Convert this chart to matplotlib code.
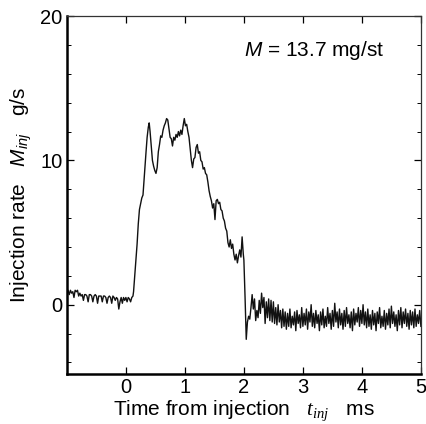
import numpy as np
import matplotlib
matplotlib.use("Agg")
import matplotlib.pyplot as plt
from matplotlib.ticker import MultipleLocator

plt.rcParams['font.family'] = ['Liberation Sans', 'DejaVu Sans']
plt.rcParams['mathtext.fontset'] = 'custom'
plt.rcParams['mathtext.rm'] = 'Liberation Sans'
plt.rcParams['mathtext.it'] = 'Liberation Serif:italic'
plt.rcParams['mathtext.sf'] = 'Liberation Sans:italic'

# before injection, sampled every 0.02 ms from -1.0 ms
pre_start, pre_step = -1.0, 0.02
rate_pre = [0.8, 1.0, 0.7, 1.0, 0.8, 0.9, 0.5, 1.0, 0.9, 1.0,
            0.6, 0.8, 0.6, 0.7, 0.3, 0.7, 0.7, 0.6, 0.2, 0.7,
            0.7, 0.6, 0.2, 0.6, 0.7, 0.6, 0.1, 0.6, 0.6, 0.6,
            0.2, 0.6, 0.6, 0.5, 0.1, 0.5, 0.6, 0.5, 0.1, 0.6,
            0.5, 0.3, 0.5, 0.4, -0.3, 0.2, 0.5, 0.1, 0.5, 0.3,
            0.5, 0.2, 0.5, 0.4, 0.2, 0.5, 0.6]

# injection event
t_main = [0.13, 0.15, 0.17, 0.19, 0.21, 0.23, 0.25, 0.27, 0.29, 0.30,
          0.32, 0.34, 0.36, 0.38, 0.395, 0.41, 0.43, 0.45, 0.47, 0.49,
          0.51, 0.53, 0.55, 0.57, 0.59, 0.61, 0.63, 0.65, 0.67, 0.69,
          0.71, 0.73, 0.75, 0.77, 0.79, 0.81, 0.83, 0.85, 0.87, 0.89,
          0.91, 0.93, 0.95, 0.97, 0.99, 1.01, 1.03, 1.05, 1.07, 1.09,
          1.11, 1.13, 1.15, 1.17, 1.19, 1.21, 1.23, 1.25, 1.27, 1.29,
          1.31, 1.33, 1.35, 1.37, 1.39, 1.41, 1.43, 1.45, 1.47, 1.49,
          1.51, 1.53, 1.55, 1.57, 1.59, 1.61, 1.63, 1.65, 1.67, 1.69,
          1.71, 1.73, 1.75, 1.77, 1.79, 1.81, 1.83, 1.85, 1.87, 1.89,
          1.91, 1.93, 1.95, 1.97, 1.99, 2.00, 2.02, 2.04, 2.06]
rate_main = [0.9, 2.0, 3.1, 4.2, 5.6, 6.6, 7.0, 7.4, 7.6, 8.2,
             9.3, 10.5, 11.6, 12.3, 12.6, 12.0, 11.0, 10.0, 9.6, 9.3,
             9.1, 9.5, 10.6, 11.1, 11.7, 11.6, 12.1, 12.4, 12.6, 12.9,
             12.8, 12.2, 11.6, 11.5, 11.0, 11.6, 11.4, 11.8, 11.6, 12.0,
             11.7, 12.1, 11.8, 12.4, 12.9, 12.4, 12.5, 12.0, 11.6, 10.8,
             10.0, 9.5, 10.1, 10.2, 10.9, 11.1, 10.5, 10.6, 10.0, 9.9,
             9.4, 9.5, 9.1, 9.0, 8.5, 7.9, 7.5, 7.2, 6.7, 7.0,
             5.9, 7.2, 7.3, 7.0, 7.1, 6.6, 6.5, 6.0, 5.8, 5.3,
             5.1, 4.3, 4.0, 4.5, 3.9, 4.2, 3.5, 3.1, 3.5, 2.9,
             3.4, 3.8, 3.3, 4.7, 3.5, 3.1, 0.5, -2.4, -1.2]

# after injection, sampled every 0.02 ms from 2.08 ms
post_start, post_step = 2.08, 0.02
rate_post = [-0.8, -1.0, -0.2, 0.7, -0.3, 0.4, -1.1, -0.4, -0.9, 0.3,
             -0.6, 0.8, -0.2, 0.5, -1.3, 0.2, -0.9, 0.4, -1.1, 0.3,
             -1.2, 0.2, -1.3, -0.2, -1.4, 0.0, -1.2, -0.4, -1.6, -0.3,
             -1.5, -0.5, -1.7, -0.6, -1.5, -0.3, -1.6, -0.8, -1.4, -0.5,
             -1.8, -0.4, -1.3, -0.7, -1.6, -0.2, -1.5, -0.6, -1.4, -0.3,
             -1.7, -0.5, -1.2, 0.0, -1.5, -0.6, -1.6, -0.4, -1.3, -0.7,
             -1.8, -0.5, -1.4, -0.3, -1.6, -0.8, -1.5, -0.2, -1.3, -0.6,
             -1.7, -0.4, -1.5, 0.1, -1.2, -0.5, -1.6, -0.3, -1.4, -0.6,
             -1.7, -0.4, -1.5, -0.2, -1.3, -0.7, -1.6, -0.5, -1.8, -0.3,
             -1.4, -0.6, -1.2, -0.2, -1.5, -0.4, -1.3, 0.0, -1.4, -0.5,
             -1.6, -0.3, -1.5, -0.7, -1.7, -0.4, -1.4, -0.6, -1.8, -0.5,
             -1.3, -0.2, -1.6, -0.8, -1.5, -0.4, -1.7, -0.6, -1.4, -0.3,
             -1.6, -0.1, -1.3, -0.5, -1.5, -0.7, -1.8, -0.4, -1.4, -0.2,
             -1.6, -0.5, -1.3, -0.3, -1.5, -0.6, -1.7, -0.4, -1.4, -0.5,
             -1.6, -0.3, -1.5, -0.7, -1.3, -0.4, -1.5]

t_pre = pre_start + pre_step * np.arange(len(rate_pre))
t_post = post_start + post_step * np.arange(len(rate_post))
t = np.concatenate([t_pre, t_main, t_post])
rate = np.concatenate([rate_pre, rate_main, rate_post])

fig = plt.figure(figsize=(4.26, 4.24), dpi=100)
ax = fig.add_axes([0.157, 0.118, 0.831, 0.844])
ax.plot(t, rate, color='#111111', lw=1.0)

ax.set_xlim(-1, 5)
ax.set_ylim(-4.8, 20)
ax.set_xticks([0, 1, 2, 3, 4, 5])
ax.set_yticks([0, 10, 20])
ax.yaxis.set_minor_locator(MultipleLocator(2))
ax.tick_params(which='both', direction='in', top=True, right=True,
               labelsize=14.5, pad=3)
ax.tick_params(which='major', length=5, width=0.9)
ax.tick_params(which='minor', length=3, width=0.7)

for side in ['left', 'bottom']:
    ax.spines[side].set_linewidth(1.8)
for side in ['top', 'right']:
    ax.spines[side].set_linewidth(0.9)
    ax.spines[side].set_color('#333333')

ax.set_xlabel(r'Time from injection   $t_{inj}$   ms', fontsize=15, labelpad=1)
ax.set_ylabel(r'Injection rate   $\mathsf{M}_{\mathsf{inj}}$   g/s', fontsize=15,
              labelpad=5)
ax.text(3.2, 17.6, r'$\mathsf{M}$ = 13.7 mg/st', fontsize=15,
        ha='center', va='center')

fig.savefig('out.png', dpi=100)
